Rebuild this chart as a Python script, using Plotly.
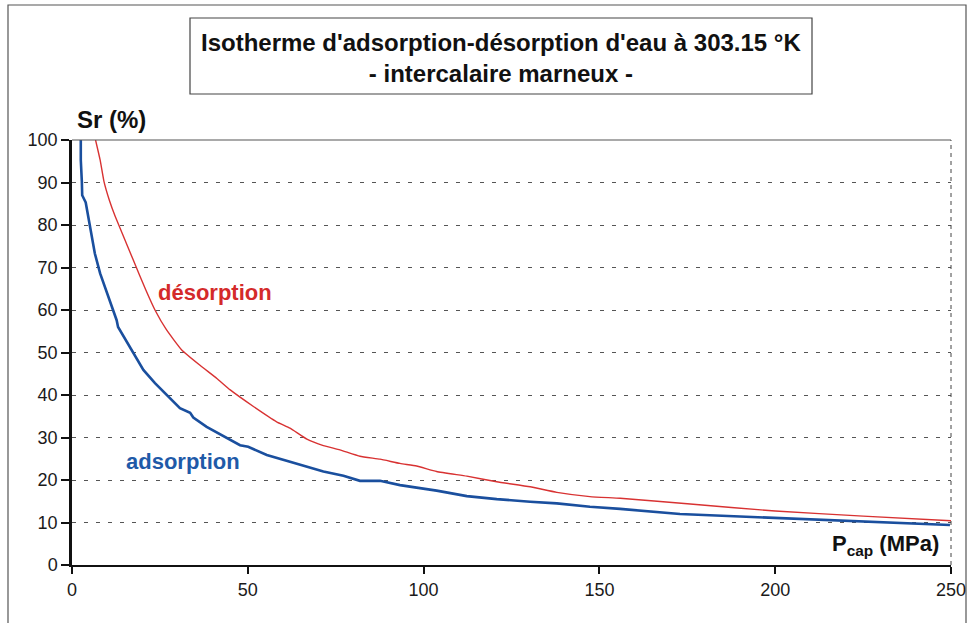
import plotly.graph_objects as go

# Adsorption curve (blue)
ads_p = [2.5, 2.5, 2.8, 2.9, 3.9, 4.7, 5.2, 6.5, 8.0, 10.3, 12.7, 13.1, 17.0, 20.3, 23.6,
         26.9, 30.7, 33.6, 34.5, 38.3, 44.0, 47.8, 50.1, 55.4, 62.0, 66.8, 71.5, 77.2,
         81.9, 87.6, 93.3, 98.0, 103.7, 112.3, 120.8, 130.3, 137.9, 147.3, 155.9, 172.9,
         199.4, 225.0, 249.7]
ads_sr = [100, 95.3, 90.2, 87.0, 85.3, 81.5, 79.6, 73.3, 68.6, 63.1, 57.6, 56.0, 50.6, 45.9,
          42.8, 40.0, 36.9, 35.8, 34.7, 32.5, 29.8, 28.2, 27.8, 25.9, 24.3, 23.1, 22.0, 21.0,
          19.8, 19.8, 18.8, 18.2, 17.5, 16.2, 15.5, 14.9, 14.5, 13.7, 13.2, 12.0,
          11.1, 10.2, 9.4]

# Desorption curve (red)
des_p = [6.7, 8.0, 9.1, 10.6, 12.3, 14.3, 17.4, 21.0, 23.6, 26.9, 31.2, 36.4, 41.2, 45.0,
         51.6, 58.2, 62.0, 66.8, 71.5, 76.2, 81.9, 87.6, 93.3, 98.0, 103.7, 112.3, 120.8,
         130.3, 137.9, 147.3, 155.9, 175.0, 200.0, 225.0, 250.0]
des_sr = [100, 95.3, 90.2, 85.9, 82.0, 78.0, 71.8, 64.7, 60.0, 55.3, 50.6, 47.0, 43.9, 41.2,
          37.3, 33.7, 32.2, 29.6, 28.1, 27.1, 25.6, 24.9, 23.9, 23.3, 22.0, 20.9, 19.6,
          18.4, 17.1, 16.1, 15.7, 14.4, 12.7, 11.5, 10.4]

x_ticks = [0, 50, 100, 150, 200, 250]
y_ticks = [0, 10, 20, 30, 40, 50, 60, 70, 80, 90, 100]

title_text = "<b>Isotherme d'adsorption-désorption d'eau à 303.15 °K<br>- intercalaire marneux -</b>"

FONT = "Liberation Sans, Arial, sans-serif"

fig = go.Figure()
fig.add_trace(go.Scatter(x=des_p, y=des_sr, mode="lines", name="désorption",
                         line=dict(color="#d83232", width=1.4, shape="spline", smoothing=0.4),
                         hoverinfo="skip"))
fig.add_trace(go.Scatter(x=ads_p, y=ads_sr, mode="lines", name="adsorption",
                         line=dict(color="#1a4f9e", width=2.6), hoverinfo="skip"))

W, H = 968, 623
L, R, T, B = 72, 17, 140, 58
pw, ph = W - L - R, H - T - B

def px(xp):
    return (xp - L) / pw

def py(yp):
    return (H - B - yp) / ph

fig.update_layout(
    width=W, height=H,
    margin=dict(l=L, r=R, t=T, b=B, pad=0, autoexpand=False),
    paper_bgcolor="white", plot_bgcolor="white",
    showlegend=False,
    font=dict(family=FONT, color="#1a1a1a"),
    xaxis=dict(range=[0, 250], tickvals=x_ticks, showgrid=False, zeroline=False,
               automargin=False,
               showline=True, linecolor="#111", linewidth=2,
               ticks="outside", ticklen=7, tickwidth=1.5, tickcolor="#111",
               tickfont=dict(size=18, family=FONT, color="#1a1a1a")),
    yaxis=dict(range=[0, 100], tickvals=y_ticks, showgrid=True, gridcolor="#555",
               automargin=False,
               gridwidth=1, griddash="4px,8px", zeroline=False,
               showline=True, linecolor="#111", linewidth=2.5,
               ticks="outside", ticklen=8, tickwidth=1.5, tickcolor="#111",
               tickfont=dict(size=18, family=FONT, color="#1a1a1a")),
)

shapes = [
    # outer frame
    dict(type="rect", xref="paper", yref="paper", x0=px(8), x1=px(966), y0=py(640), y1=py(5),
         line=dict(color="#555", width=1.2), layer="below"),
    # title box
    dict(type="rect", xref="paper", yref="paper", x0=px(190), x1=px(812), y0=py(94), y1=py(18),
         line=dict(color="#444", width=1.2)),
    # top border of plot
    dict(type="line", xref="paper", yref="paper", x0=0, x1=1, y0=1, y1=1,
         line=dict(color="#555", width=1.2)),
    # right border of plot
    dict(type="line", xref="paper", yref="paper", x0=1, x1=1, y0=0, y1=1,
         line=dict(color="#444", width=1, dash="4px,4px")),
]
fig.update_layout(shapes=shapes)

ann = [
    dict(text=title_text, xref="paper", yref="paper", x=px(501), y=py(58),
         xanchor="center", yanchor="middle", showarrow=False,
         font=dict(size=24, family=FONT, color="#111")),
    dict(text="<b>Sr (%)</b>", xref="paper", yref="paper", x=px(75), y=py(119),
         xanchor="left", yanchor="middle", showarrow=False,
         font=dict(size=24, family=FONT, color="#111")),
    dict(text="<b>P<sub>cap</sub> (MPa)</b>", xref="paper", yref="paper", x=px(941), y=py(545),
         xanchor="right", yanchor="middle", showarrow=False,
         font=dict(size=22, family=FONT, color="#111")),
    dict(text="<b>désorption</b>", xref="paper", yref="paper", x=px(215), y=py(292),
         xanchor="center", yanchor="middle", showarrow=False,
         font=dict(size=22, family=FONT, color="#d42a2a")),
    dict(text="<b>adsorption</b>", xref="paper", yref="paper", x=px(183), y=py(461),
         xanchor="center", yanchor="middle", showarrow=False,
         font=dict(size=22, family=FONT, color="#1f5aa8")),
]
fig.update_layout(annotations=ann)

fig.write_html("out.html", config={"displayModeBar": False},
               post_script="document.body.style.margin='0';document.body.style.overflow='hidden';")
